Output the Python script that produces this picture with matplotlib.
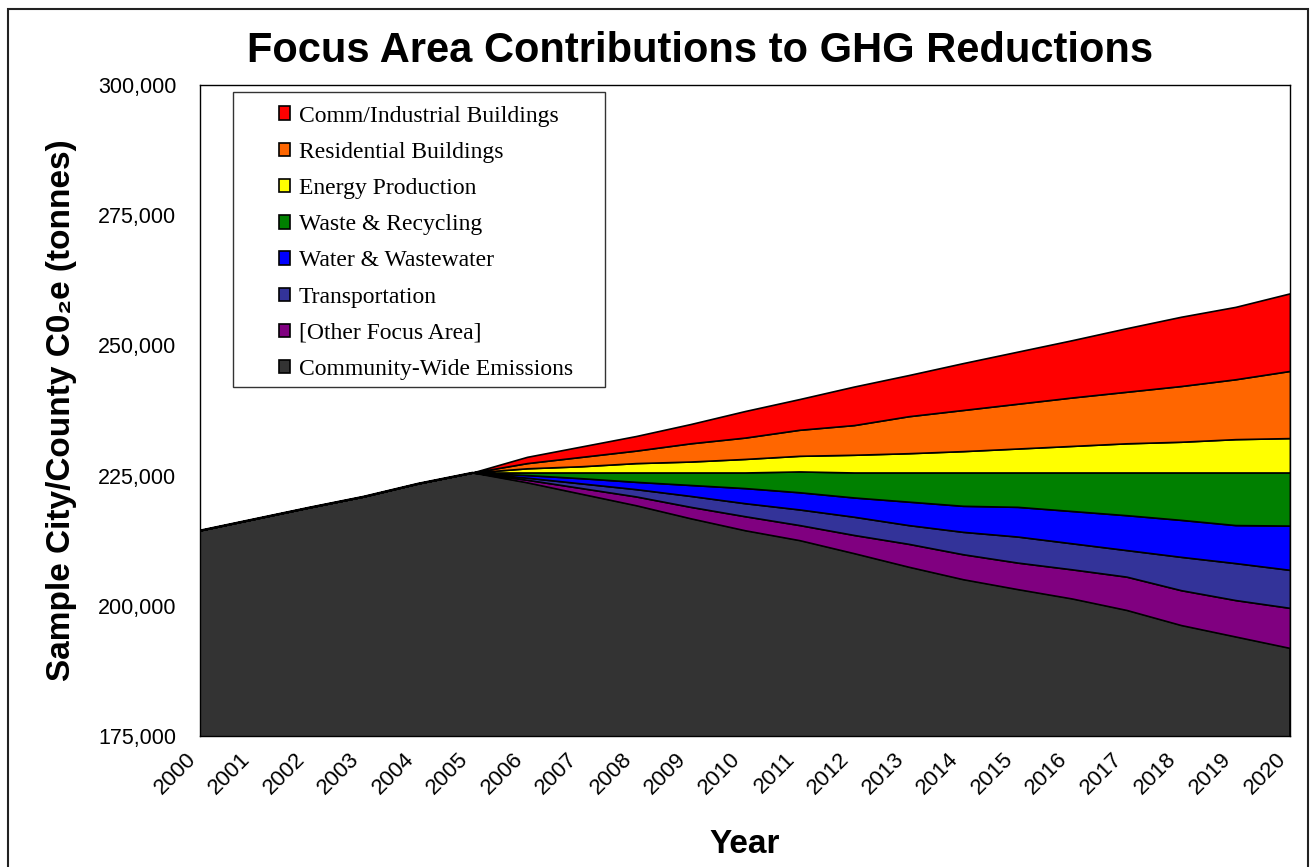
"""Focus area contributions to GHG reductions (stacked area)."""

import matplotlib

matplotlib.use("Agg")

import matplotlib.pyplot as plt
from matplotlib.patches import Patch, Rectangle
from matplotlib.ticker import FuncFormatter

plt.rcParams["font.family"] = ["Liberation Sans", "DejaVu Sans"]

W, H = 1315, 867

years = list(range(2000, 2021))

# remaining community-wide emissions (tonnes CO2e)
community = [214500, 216700, 218900, 221000, 223500, 225600, 223700, 221500,
             219300, 216800, 214500, 212600, 210100, 207500, 205100, 203200,
             201400, 199200, 196300, 194100, 191900]

# reductions by focus area (tonnes CO2e)
other_area = [0, 0, 0, 0, 0, 0, 500, 1100, 1700, 2200, 2700, 2900, 3500, 4400,
              4800, 5100, 5600, 6400, 6700, 7000, 7700]
transportation = [0, 0, 0, 0, 0, 0, 400, 900, 1400, 2100, 2500, 3000, 3500,
                  3600, 4300, 5000, 5000, 5100, 6400, 7100, 7300]
water = [0, 0, 0, 0, 0, 0, 500, 1000, 1400, 2100, 2900, 3300, 3700, 4500,
         5000, 5700, 6200, 6700, 7100, 7300, 8500]
waste = [0, 0, 0, 0, 0, 0, 500, 1100, 1800, 2400, 3000, 4000, 4800, 5600, 6400,
         6600, 7400, 8200, 9100, 10100, 10200]
energy = [0, 0, 0, 0, 0, 0, 800, 1200, 1800, 2100, 2600, 3000, 3400, 3700,
          4100, 4600, 5100, 5600, 5900, 6400, 6600]
residential = [0, 0, 0, 0, 0, 0, 1000, 1800, 2400, 3500, 4100, 5000, 5700,
               7100, 7900, 8600, 9300, 9900, 10700, 11500, 12900]
commercial = [0, 0, 0, 0, 0, 0, 1200, 2000, 2800, 3700, 5100, 5900, 7400, 7900,
              9000, 10000, 11000, 12200, 13300, 13900, 14900]

series_labels = ["Community-Wide Emissions", "[Other Focus Area]", "Transportation",
                 "Water & Wastewater", "Waste & Recycling", "Energy Production",
                 "Residential Buildings", "Comm/Industrial Buildings"]
series_colors = ["#333333", "#800080", "#333399", "#0000ff", "#008000",
                 "#ffff00", "#ff6600", "#ff0000"]
y_ticks = [175000, 200000, 225000, 250000, 275000, 300000]

fig = plt.figure(figsize=(W / 100, H / 100), dpi=100)
ax = fig.add_axes([200 / W, 1 - 736 / H, 1090 / W, 651 / H])

ax.stackplot(years, community, other_area, transportation, water, waste,
             energy, residential, commercial, colors=series_colors,
             edgecolor="black", linewidth=1.2)

ax.set_xlim(2000, 2020)
ax.set_ylim(175000, 300000)
ax.set_yticks(y_ticks)
ax.yaxis.set_major_formatter(FuncFormatter(lambda v, _: f"{int(v):,}"))
ax.set_xticks(years)
ax.set_xticklabels([str(y) for y in years], rotation=45, ha="right", va="top")
ax.tick_params(axis="y", length=0, pad=17, labelsize=15.5)
ax.tick_params(axis="x", length=0, pad=9, labelsize=16)
for spine in ax.spines.values():
    spine.set_color("black")
    spine.set_linewidth(1.0)

ax.set_xlabel("Year", fontsize=24, fontweight="bold", labelpad=22)
fig.text(62 / W, 1 - 410 / H, "Sample City/County C0\u2082e (tonnes)",
         rotation=90, ha="center", va="center", fontsize=24, fontweight="bold")
fig.text(700 / W, 1 - 51 / H, "Focus Area Contributions to GHG Reductions",
         ha="center", va="center", fontsize=30, fontweight="bold")

# legend box drawn separately so padding can match the original
fig.patches.append(Rectangle((233 / W, 1 - 387 / H), 372 / W, 295 / H,
                             transform=fig.transFigure, facecolor="white",
                             edgecolor="#333333", linewidth=1.0, zorder=5))
handles = [Patch(facecolor=c, edgecolor="black", linewidth=1.2, label=l)
           for c, l in zip(series_colors, series_labels)][::-1]
leg = fig.legend(handles=handles, loc="upper left",
                 bbox_to_anchor=(262 / W, 1 - 89 / H), frameon=False,
                 prop={"family": "Liberation Serif", "size": 17},
                 handlelength=0.5, handleheight=0.5, handletextpad=0.35,
                 labelspacing=0.645, borderpad=0.2)
leg.set_zorder(6)

# outer chart border
fig.patches.append(Rectangle((8 / W, -0.05), 1300 / W, 1.05 - 9 / H,
                             transform=fig.transFigure, fill=False,
                             edgecolor="#222222", linewidth=1.5))

fig.savefig("out.png", dpi=100)
